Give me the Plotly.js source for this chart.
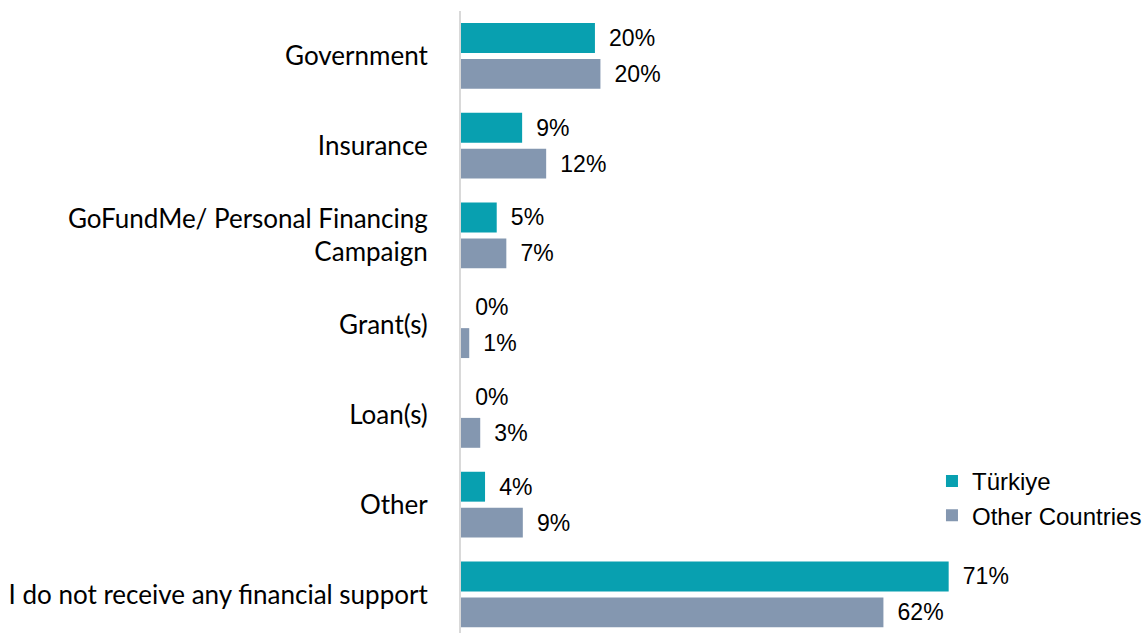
<!DOCTYPE html>
<html>
<head>
<meta charset="utf-8">
<script src="https://cdn.plot.ly/plotly-3.0.1.min.js"></script>
<style>html,body{margin:0;padding:0;background:#fff;}#chart{width:1147px;height:633px;}</style>
</head>
<body>
<div id="chart"></div>
<script>
const categories = ["Government", "Insurance", "GoFundMe/ Personal Financing<br>Campaign", "Grant(s)", "Loan(s)", "Other", "I do not receive any financial support"];
const turkiyeValues = [19.5, 8.9, 5.2, 0, 0, 3.5, 71];
const otherValues = [20.3, 12.4, 6.6, 1.2, 2.8, 9.0, 61.5];
const turkiyeLabels = ["20%", "9%", "5%", "0%", "0%", "4%", "71%"];
const otherLabels = ["20%", "12%", "7%", "1%", "3%", "9%", "62%"];
const seriesNames = ["Türkiye", "Other Countries"];

const labelFont = {family: "Liberation Sans, Arial, sans-serif", size: 23, color: "#000"};
const pad = s => "\u2009\u2009\u200A" + s;

const traces = [
  {type: "bar", orientation: "h", name: seriesNames[0], y: categories, x: turkiyeValues,
   text: turkiyeLabels.map(pad), textposition: "outside", textfont: labelFont, cliponaxis: false,
   marker: {color: "#08A0B0"}, hoverinfo: "x+y"},
  {type: "bar", orientation: "h", name: seriesNames[1], y: categories, x: otherValues,
   text: otherLabels.map(pad), textposition: "outside", textfont: labelFont, cliponaxis: false,
   marker: {color: "#8497B0"}, hoverinfo: "x+y"}
];

const layout = {
  width: 1147, height: 633,
  margin: {l: 461, r: 0, t: 11, b: 0},
  paper_bgcolor: "#fff", plot_bgcolor: "#fff",
  barmode: "group", bargap: 0.2, bargroupgap: 0.167,
  xaxis: {range: [0, 97.4], visible: false, fixedrange: true},
  yaxis: {type: "category", range: [6.43, -0.5], showline: true, linecolor: "#d9d9d9", linewidth: 2,
          showgrid: false, zeroline: false, ticks: "", ticklabelstandoff: 26,
          tickfont: {family: "Lato, Carlito, Calibri, sans-serif", size: 26, color: "#000"}},
  showlegend: true,
  legend: {x: 0.704, y: 0.28, xanchor: "left", yanchor: "top", traceorder: "normal",
           font: {family: "Liberation Sans, Arial, sans-serif", size: 24, color: "#000"},
           itemwidth: 30, tracegroupgap: 0, bgcolor: "rgba(0,0,0,0)"}
};

Plotly.newPlot("chart", traces, layout, {displayModeBar: false, staticPlot: true});
</script>
</body>
</html>
